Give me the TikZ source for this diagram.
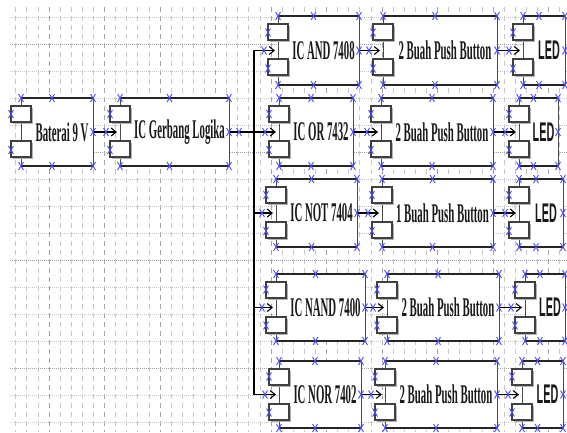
\documentclass[tikz,border=0pt]{standalone}
\usepackage{fontspec}
\usepackage{graphicx}
\setmainfont{Liberation Serif}
\newfontfamily\lsans{Liberation Sans}
\usetikzlibrary{calc,arrows.meta}
\definecolor{mkblue}{RGB}{75,75,255}
\definecolor{gridminor}{RGB}{200,200,200}
\definecolor{gridmajor}{RGB}{165,165,165}
\newcommand{\sertxt}[1]{\scalebox{0.40}[1]{\fontsize{27}{27}\selectfont\bfseries #1}}
\newcommand{\santxt}[1]{\scalebox{0.40}[1]{\lsans\fontsize{27}{27}\selectfont\bfseries #1}}
\newcommand{\blk}[7]{%
  \node[blockbox, minimum width={(#3-#2)*1pt}, minimum height={(#5-#4)*1pt}] (#1) at ({(#2+#3)/2},{(#4+#5)/2}) {};
  \draw[thinedge] (#1.north east) -- (#1.south east) (#1.north west) -- (#1.south west);
  \draw[thickedge] (#1.north west) -- (#1.north east) (#1.south west) -- (#1.south east);
  \fill[subshadow] ($(#1.north west)+(-8.5,9.5)$) rectangle ($(#1.north west)+(11.5,25.5)$);
  \fill[subshadow] ($(#1.north west)+(-8.5,44.5)$) rectangle ($(#1.north west)+(11.5,60.5)$);
  \draw[subrect] ($(#1.north west)+(-10,8)$) rectangle ($(#1.north west)+(10,24)$);
  \draw[subrect] ($(#1.north west)+(-10,43)$) rectangle ($(#1.north west)+(10,59)$);
  \node[lbl] (#1-t) at ({(#2+10+#3)/2},{(#4+#5)/2}) {#6{#7}};
}
\newcommand{\blkmk}[4]{%
  \foreach \mx/\my in {#1/#3,{(#1-10+#2)/2}/#3,#2/#3,#1/#4,{(#1-10+#2)/2}/#4,#2/#4,#2/{(#3+#4)/2},{#1-10}/{(#3+#4)/2-18},{#1-10}/{(#3+#4)/2+18}}
    {\pic at ({\mx},{\my}) {mk};}
}
\begin{document}
\begin{tikzpicture}[x=1pt,y=-1pt,
  blockbox/.style={rectangle, draw=none, fill=white, inner sep=0pt, outer sep=0pt},
  thickedge/.style={line width=1.9pt, black!85},
  thinedge/.style={line width=0.9pt, black!70},
  subrect/.style={draw=black!75, line width=1.5pt, fill=white},
  subshadow/.style={fill=black!30},
  conn/.style={line width=1.2pt, black, -{Straight Barb[length=5pt,width=8pt,line width=1.1pt]}, shorten >=3pt},
  mkline/.style={draw=mkblue, line width=0.9pt},
  lbl/.style={inner sep=0pt, text=black!90},
  vgrid/.style={draw=gridminor, line width=0.7pt, dash pattern=on 5pt off 4pt},
  vgridmaj/.style={draw=gridmajor, line width=0.7pt, dash pattern=on 5pt off 4pt},
  hgrid/.style={draw=gridminor, line width=1pt, dash pattern=on 1pt off 1pt},
  hgridmaj/.style={draw=gridmajor, line width=1pt, dash pattern=on 1pt off 1pt},
  pics/mk/.style={code={\draw[mkline] (-2.5,-4) -- (2.5,4) (-2.5,4) -- (2.5,-4);}}
]
\fill[white] (0,0) rectangle (567,432);
\useasboundingbox (0,0) rectangle (567,432);
% grid
\foreach \k in {0,...,50} {\draw[vgrid] ({15.7+11.1*\k},7) -- ({15.7+11.1*\k},432);}
\foreach \k in {3,8,...,48} {\draw[vgridmaj] ({15.7+11.1*\k},7) -- ({15.7+11.1*\k},432);}
\foreach \k in {0,...,15} {\draw[hgrid] (10,{17+27*\k}) -- (567,{17+27*\k});}
\foreach \k in {1,5,9,13} {\draw[hgridmaj] (10,{17+27*\k}) -- (567,{17+27*\k});}
% blocks
\blk{bat}{21}{93}{98}{166}{\sertxt}{Baterai 9 V}
\blk{gl}{120}{229}{98}{166}{\sertxt}{IC Gerbang Logika}
\blk{ican}{278}{359}{16}{85}{\sertxt}{IC AND 7408}
\blk{pban}{383}{497}{16}{85}{\sertxt}{2 Buah Push Button}
\blk{ledan}{523}{565}{16}{85}{\santxt}{LED}
\blk{icor}{279}{353}{98}{166}{\sertxt}{IC OR 7432}
\blk{pbor}{381}{493}{98}{166}{\sertxt}{2 Buah Push Button}
\blk{ledor}{519}{558}{98}{166}{\santxt}{LED}
\blk{icnot}{276}{357}{179}{247}{\sertxt}{IC NOT 7404}
\blk{pbnot}{382}{493}{179}{247}{\sertxt}{1 Buah Push Button}
\blk{lednot}{519}{563}{179}{247}{\santxt}{LED}
\blk{icnand}{276}{365}{274}{341}{\sertxt}{IC NAND 7400}
\blk{pbnand}{387}{499}{274}{341}{\sertxt}{2 Buah Push Button}
\blk{lednand}{525}{565}{274}{341}{\santxt}{LED}
\blk{icnor}{279}{361}{361}{428}{\sertxt}{IC NOR 7402}
\blk{pbnor}{385}{497}{361}{428}{\sertxt}{2 Buah Push Button}
\blk{lednor}{522}{563}{361}{428}{\santxt}{LED}
% connectors
\draw[conn] (bat.east) -- (gl.west);
\foreach \t in {ican,icor,icnot,icnand,icnor} {\draw[conn] (gl.east) -- ++(25,0) |- (\t.west);}
\foreach \s/\t in {ican/pban,pban/ledan,icor/pbor,pbor/ledor,icnot/pbnot,pbnot/lednot,icnand/pbnand,pbnand/lednand,icnor/pbnor,pbnor/lednor} {\draw[conn] (\s.east) -- (\t.west);}
% connection markers
\blkmk{21}{93}{98}{166}
\blkmk{120}{229}{98}{166}
\blkmk{278}{359}{16}{85}
\blkmk{383}{497}{16}{85}
\blkmk{523}{565}{16}{85}
\blkmk{279}{353}{98}{166}
\blkmk{381}{493}{98}{166}
\blkmk{519}{558}{98}{166}
\blkmk{276}{357}{179}{247}
\blkmk{382}{493}{179}{247}
\blkmk{519}{563}{179}{247}
\blkmk{276}{365}{274}{341}
\blkmk{387}{499}{274}{341}
\blkmk{525}{565}{274}{341}
\blkmk{279}{361}{361}{428}
\blkmk{385}{497}{361}{428}
\blkmk{522}{563}{361}{428}
\foreach \t in {gl,ican,pban,ledan,icor,pbor,ledor,icnot,pbnot,lednot,icnand,pbnand,lednand,icnor,pbnor,lednor} {\pic at ($(\t.west)+(-14,0)$) {mk};}
\pic at ($(gl.east)+(10,0)$) {mk};
\end{tikzpicture}
\end{document}
